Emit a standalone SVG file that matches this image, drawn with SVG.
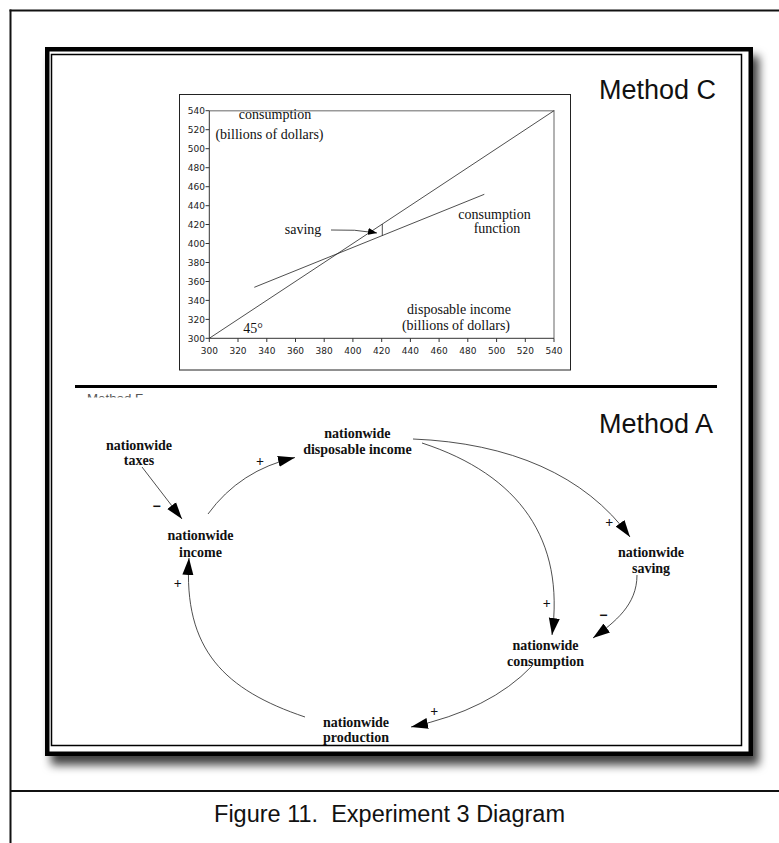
<svg xmlns="http://www.w3.org/2000/svg" width="779" height="843" viewBox="0 0 779 843">
<defs>
<filter id="shadow" x="-5%" y="-5%" width="115%" height="115%">
<feDropShadow dx="6" dy="9" stdDeviation="5" flood-color="#000" flood-opacity="0.75"/>
</filter>
<marker id="ah" markerUnits="userSpaceOnUse" markerWidth="18" markerHeight="12" refX="17" refY="6" orient="auto">
<path d="M0,0.5 L17,6 L0,11.5 Z" fill="#000"/>
</marker>
<marker id="ahs" markerUnits="userSpaceOnUse" markerWidth="10" markerHeight="8" refX="9" refY="4" orient="auto">
<path d="M0,0.5 L9,4 L0,7.5 Z" fill="#000"/>
</marker>
<clipPath id="clipF"><rect x="60" y="390" width="120" height="7.5"/></clipPath>
</defs>
<style>
.frame{stroke:#111;stroke-width:2;fill:none}
.node{font-family:"Liberation Serif","Times New Roman",serif;font-weight:bold;font-size:14px;fill:#111;text-anchor:middle}
.sign{font-family:"Liberation Serif","Times New Roman",serif;font-weight:bold;font-size:14px;fill:#111;text-anchor:middle}
.link{fill:none;stroke:#222;stroke-width:0.8;marker-end:url(#ah)}
.ct{font-family:"Liberation Serif","Times New Roman",serif;font-size:14px;fill:#111;text-anchor:middle}
.ax{font-family:"DejaVu Sans",Verdana,sans-serif;font-size:9px;fill:#222}
.method{font-family:"Liberation Sans",Arial,sans-serif;font-size:27px;fill:#111}
.tick{stroke:#333;stroke-width:1}
</style>
<rect width="779" height="843" fill="#fff"/>
<!-- outer frame -->
<line class="frame" x1="10.5" y1="9.5" x2="10.5" y2="843"/>
<line class="frame" x1="9.5" y1="10.5" x2="779" y2="10.5"/>
<line class="frame" x1="10" y1="791" x2="779" y2="791"/>
<!-- inner box -->
<rect x="47.25" y="49.25" width="703.5" height="704.5" fill="#fff" stroke="#000" stroke-width="4.5" filter="url(#shadow)"/>
<rect x="51.5" y="54.5" width="690" height="691" fill="none" stroke="#000" stroke-width="1.5"/>
<!-- Method C chart -->
<g id="chart">
<rect x="179.5" y="94.5" width="391" height="275.5" fill="#fff" stroke="#222" stroke-width="1"/>
<polyline points="209.3,110.7 554,110.7 554,338.3" fill="none" stroke="#999" stroke-width="1.5"/>
<line x1="209.3" y1="110.7" x2="209.3" y2="338.3" stroke="#333" stroke-width="1"/>
<line x1="209.3" y1="338.3" x2="554" y2="338.3" stroke="#333" stroke-width="1"/>
<g class="tick">
<line x1="205.5" y1="110.7" x2="209.3" y2="110.7"/><line x1="205.5" y1="129.7" x2="209.3" y2="129.7"/><line x1="205.5" y1="148.7" x2="209.3" y2="148.7"/><line x1="205.5" y1="167.7" x2="209.3" y2="167.7"/><line x1="205.5" y1="186.7" x2="209.3" y2="186.7"/><line x1="205.5" y1="205.7" x2="209.3" y2="205.7"/><line x1="205.5" y1="224.5" x2="209.3" y2="224.5"/><line x1="205.5" y1="243.5" x2="209.3" y2="243.5"/><line x1="205.5" y1="262.5" x2="209.3" y2="262.5"/><line x1="205.5" y1="281.5" x2="209.3" y2="281.5"/><line x1="205.5" y1="300.4" x2="209.3" y2="300.4"/><line x1="205.5" y1="319.4" x2="209.3" y2="319.4"/><line x1="205.5" y1="338.3" x2="209.3" y2="338.3"/>
<line x1="209.3" y1="338.3" x2="209.3" y2="342"/><line x1="238" y1="338.3" x2="238" y2="342"/><line x1="266.8" y1="338.3" x2="266.8" y2="342"/><line x1="295.5" y1="338.3" x2="295.5" y2="342"/><line x1="324.2" y1="338.3" x2="324.2" y2="342"/><line x1="352.9" y1="338.3" x2="352.9" y2="342"/><line x1="381.7" y1="338.3" x2="381.7" y2="342"/><line x1="410.4" y1="338.3" x2="410.4" y2="342"/><line x1="439.1" y1="338.3" x2="439.1" y2="342"/><line x1="467.8" y1="338.3" x2="467.8" y2="342"/><line x1="496.6" y1="338.3" x2="496.6" y2="342"/><line x1="525.3" y1="338.3" x2="525.3" y2="342"/><line x1="554" y1="338.3" x2="554" y2="342"/>
</g>
<g class="ax" text-anchor="end">
<text x="205" y="114">540</text><text x="205" y="133">520</text><text x="205" y="152">500</text><text x="205" y="171">480</text><text x="205" y="190">460</text><text x="205" y="209">440</text><text x="205" y="227.8">420</text><text x="205" y="246.8">400</text><text x="205" y="265.8">380</text><text x="205" y="284.8">360</text><text x="205" y="303.7">340</text><text x="205" y="322.7">320</text><text x="205" y="341.6">300</text>
</g>
<g class="ax" text-anchor="middle">
<text x="209.3" y="354">300</text><text x="238" y="354">320</text><text x="266.8" y="354">340</text><text x="295.5" y="354">360</text><text x="324.2" y="354">380</text><text x="352.9" y="354">400</text><text x="381.7" y="354">420</text><text x="410.4" y="354">440</text><text x="439.1" y="354">460</text><text x="467.8" y="354">480</text><text x="496.6" y="354">500</text><text x="525.3" y="354">520</text><text x="554" y="354">540</text>
</g>
<line x1="209.3" y1="338.3" x2="554" y2="110.7" stroke="#222" stroke-width="0.8"/>
<line x1="254.3" y1="287.3" x2="484.3" y2="194.3" stroke="#222" stroke-width="0.8"/>
<line x1="382.3" y1="224" x2="382.3" y2="235.6" stroke="#222" stroke-width="0.8"/>
<path d="M331,230 Q355,229 377,233" fill="none" stroke="#222" stroke-width="0.8" marker-end="url(#ahs)"/>
<text class="ct" x="275" y="119">consumption</text>
<text class="ct" x="269.5" y="138.5">(billions of dollars)</text>
<text class="ct" x="303" y="233.5">saving</text>
<text class="ct" x="494.5" y="219">consumption</text>
<text class="ct" x="497" y="233">function</text>
<text class="ct" x="459" y="313.5">disposable income</text>
<text class="ct" x="456" y="330">(billions of dollars)</text>
<text class="ct" x="253" y="333" font-size="16">45°</text>
</g>
<text id="methodC" class="method" x="599" y="99">Method C</text>
<!-- separator -->
<line x1="75" y1="386.5" x2="717" y2="386.5" stroke="#000" stroke-width="3"/>
<text x="87" y="402.5" clip-path="url(#clipF)" font-family="Liberation Sans, Arial, sans-serif" font-size="13.3" fill="#555">Method F</text>
<text id="methodA" class="method" x="599" y="433">Method A</text>
<!-- nodes -->
<g id="taxes"><text class="node" x="139" y="449.5">nationwide</text><text class="node" x="139" y="465">taxes</text></g>
<g id="disposable"><text class="node" x="357.4" y="438">nationwide</text><text class="node" x="357.4" y="454">disposable income</text></g>
<g id="income"><text class="node" x="200.5" y="539.5">nationwide</text><text class="node" x="200.5" y="556.5">income</text></g>
<g id="saving"><text class="node" x="651" y="556.7">nationwide</text><text class="node" x="651" y="572.5">saving</text></g>
<g id="consumption"><text class="node" x="545.5" y="649.5">nationwide</text><text class="node" x="545.5" y="665.5">consumption</text></g>
<g id="production"><text class="node" x="356" y="726.7">nationwide</text><text class="node" x="356" y="742">production</text></g>
<!-- connectors -->
<g id="connectors">
<path class="link" d="M142,467 L182,519"/>
<path class="link" d="M208,514 Q240,470 295,457.5"/>
<path class="link" d="M413,439 C510,443 585,475 630,537"/>
<path class="link" d="M422,443 C520,475 565,540 552,635"/>
<path class="link" d="M637,575 C637,605 615,622 593,638"/>
<path class="link" d="M532,666 Q490,710 411,727"/>
<path class="link" d="M305,717 C225,690 183,650 189,558"/>
<g class="sign">
<text x="156.5" y="511" font-family="Liberation Sans, Arial, sans-serif">−</text>
<text x="260" y="466">+</text>
<text x="609.3" y="527">+</text>
<text x="546.7" y="608">+</text>
<text x="603.3" y="620" font-family="Liberation Sans, Arial, sans-serif">−</text>
<text x="434.3" y="716">+</text>
<text x="177.7" y="587.5">+</text>
</g>
</g>
<text x="389.5" y="822" text-anchor="middle" font-family="Liberation Sans, Arial, sans-serif" font-size="23.5" fill="#111">Figure 11.&#160; Experiment 3 Diagram</text>
</svg>
